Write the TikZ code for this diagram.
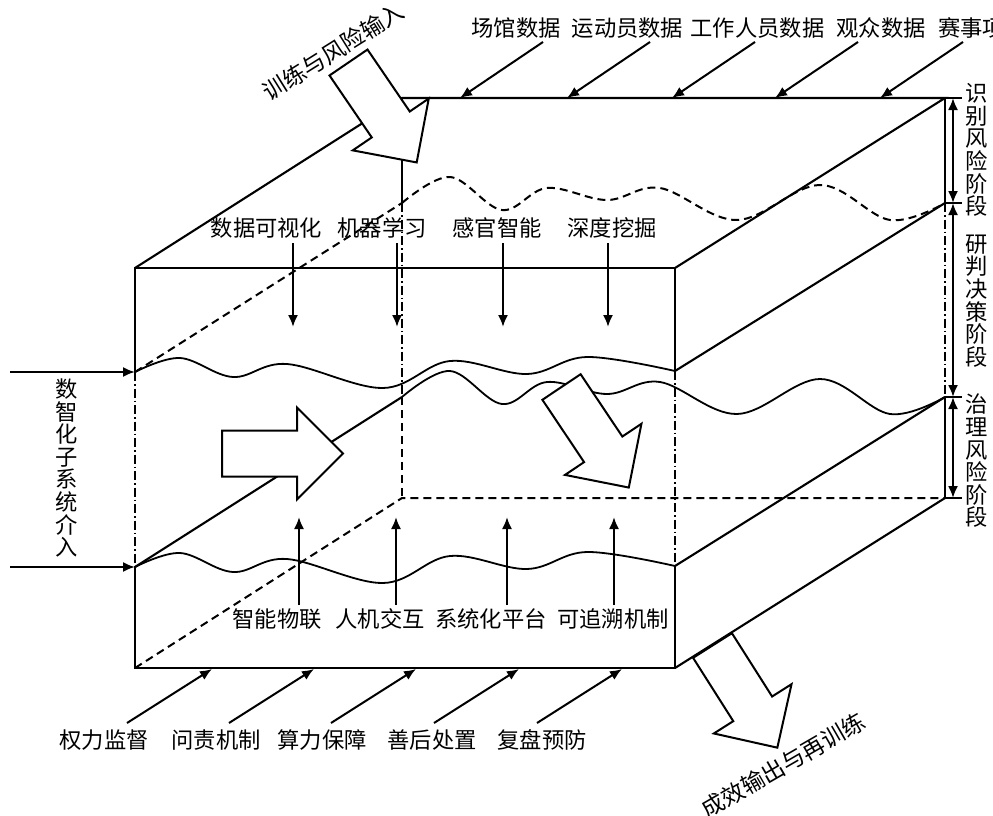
\documentclass[tikz,border=0pt]{standalone}
\usepackage{fontspec}
\setmainfont{Noto Sans CJK SC}
\usetikzlibrary{arrows.meta}
\begin{document}
\begin{tikzpicture}[x=1pt,y=-1pt,
  edge/.style={line width=2.1pt},
  thinedge/.style={line width=1.3pt},
  hid/.style={line width=2pt, dash pattern=on 8pt off 5pt},
  dd/.style={line width=1.7pt, dash pattern=on 9pt off 3pt on 1.5pt off 3pt},
  wave/.style={line width=1.8pt},
  arr/.style={line width=2pt, -{Latex[length=12pt,width=10pt]}},
  darr/.style={line width=2pt, {Latex[length=12pt,width=10pt]}-{Latex[length=12pt,width=10pt]}},
  lab/.style={font=\fontsize{22.3}{22.3}\selectfont, inner sep=0pt},
  rlab/.style={font=\fontsize{23}{23}\selectfont, inner sep=0pt},
  vlab/.style={font=\fontsize{22.3}{22.6}\selectfont, inner sep=0pt, align=center},
  big/.style={line width=2pt, fill=white, line join=miter},
  bigarrow/.pic={\draw[big] (0,-23) -- (75,-23) -- (75,-46) -- (121,0) -- (75,46) -- (75,23) -- (0,23) -- cycle;}
]
\useasboundingbox (0,0) rectangle (993,816);
\fill[white] (0,0) rectangle (993,816);

% corners
\coordinate (F1) at (135,268); \coordinate (F2) at (675,268);
\coordinate (F3) at (675,668); \coordinate (F4) at (135,668);
\coordinate (B1) at (402,98);  \coordinate (B2) at (945,98);
\coordinate (B3) at (945,498); \coordinate (B4) at (402,498);
\coordinate (FL1) at (135,372); \coordinate (FL2) at (135,567);
\coordinate (FR1) at (675,371); \coordinate (FR2) at (675,566);
\coordinate (BL1) at (402,203); \coordinate (BL2) at (402,397);
\coordinate (BR1) at (945,203); \coordinate (BR2) at (945,397);

% hidden edges
\draw[hid] (F4) -- (B4) -- (B3);
\draw[hid] (BL2) -- (B4);
\draw[hid] (FL1) -- (BL1);
\draw[edge] (B1) -- (BL1);
\draw[dd] (BL1) -- (BL2);
\draw[edge] (FL2) -- (BL2);

% visible edges
\draw[edge] (FL1) -- (F1) -- (F2) -- (FR1);
\draw[edge] (FL2) -- (F4) -- (F3) -- (FR2);
\draw[dd] (FL1) -- (FL2);
\draw[dd] (FR1) -- (FR2);
\draw[edge] (F1) -- (B1) -- (B2) -- (F2);
\draw[edge] (B2) -- (BR1);
\draw[dd] (BR1) -- (BR2);
\draw[thinedge] (BR2) -- (B3);
\draw[edge] (B3) -- (F3);
\draw[edge] (FR1) -- (BR1);
\draw[edge] (FR2) -- (BR2);

% layer waves
\draw[wave] plot[smooth,tension=0.6] coordinates {(FL1) (180,358) (233,377) (287,364) (383,388) (450,361) (527,374) (587,357) (FR1)};
\draw[wave] plot[smooth,tension=0.6] coordinates {(FL2) (180,553) (233,572) (287,559) (383,583) (450,556) (527,569) (587,552) (FR2)};
\draw[hid] plot[smooth,tension=0.6] coordinates {(BL1) (450,177) (502,210) (547,188) (607,200) (660,188) (737,220) (820,185) (890,220) (BR1)};
\draw[wave] plot[smooth,tension=0.6] coordinates {(BL2) (450,371) (502,404) (547,382) (607,394) (660,382) (737,414) (820,379) (890,414) (BR2)};

% stage markers on the right
\coordinate (T0) at (962,98);
\coordinate (T1) at (962,203);
\coordinate (T2) at (962,397);
\coordinate (T3) at (962,498);
\draw[edge] (B2) -- (T0);
\draw[edge] (BR1) -- (T1);
\draw[edge] (BR2) -- (T2);
\draw[edge] (B3) -- (T3);
\coordinate (S0) at (953,98);
\coordinate (S1) at (953,203);
\coordinate (S2) at (953,397);
\coordinate (S3) at (953,498);
\draw[darr] (S0) -- (S1);
\draw[darr] (S1) -- (S2);
\draw[darr] (S2) -- (S3);

% big hollow arrows
\pic[rotate=-55.7] at (348.5,62.5) {bigarrow};
\pic at (222,453.5) {bigarrow};
\pic[rotate=-56.2] at (561.5,387) {bigarrow};
\pic[rotate=-57.6] at (712.5,645.5) {bigarrow};

% top data labels and arrows
\node[lab] (t1) at (516,28) {场馆数据};
\node[lab] (t2) at (627.5,28) {运动员数据};
\node[lab] (t3) at (757.5,28) {工作人员数据};
\node[lab] (t4) at (881,28) {观众数据};
\node[lab,anchor=west] (t5) at (938,28) {赛事项};
\foreach \e [count=\i] in {460,567,672,775,880}{
  \coordinate (d\i s) at ({\e+83},42);
  \coordinate (d\i e) at (\e,98);
  \draw[arr] (d\i s) -- (d\i e);
}

% inner top labels and arrows
\node[lab] (m1) at (266.5,228) {数据可视化};
\node[lab] (m2) at (382,228) {机器学习};
\node[lab] (m3) at (497,228) {感官智能};
\node[lab] (m4) at (612,228) {深度挖掘};
\foreach \x [count=\i] in {293,397,503,608}{
  \coordinate (u\i s) at (\x,243);
  \coordinate (u\i e) at (\x,327);
  \draw[arr] (u\i s) -- (u\i e);
}

% inner bottom labels and arrows
\node[lab] (n1) at (277,619) {智能物联};
\node[lab] (n2) at (380,619) {人机交互};
\node[lab] (n3) at (491,619) {系统化平台};
\node[lab] (n4) at (613,619) {可追溯机制};
\foreach \x [count=\i] in {299,396,507,614}{
  \coordinate (v\i s) at (\x,605);
  \coordinate (v\i e) at (\x,517);
  \draw[arr] (v\i s) -- (v\i e);
}

% bottom labels and arrows
\node[lab] (b1) at (104,740) {权力监督};
\node[lab] (b2) at (216,740) {问责机制};
\node[lab] (b3) at (322,740) {算力保障};
\node[lab] (b4) at (432,740) {善后处置};
\node[lab] (b5) at (542,740) {复盘预防};
\foreach \e [count=\i] in {212,314,416,519,622}{
  \coordinate (w\i s) at ({\e-85},723);
  \coordinate (w\i e) at (\e,669);
  \draw[arr] (w\i s) -- (w\i e);
}

% left inputs
\coordinate (L1) at (10,372);
\coordinate (L2) at (10,567);
\draw[arr] (L1) -- (FL1);
\draw[arr] (L2) -- (FL2);
\node[vlab] (lv) at (67,468) {数\\智\\化\\子\\系\\统\\介\\入};

% stage labels
\node[vlab] (s1) at (977,150) {识\\别\\风\\险\\阶\\段};
\node[vlab] (s2) at (977,301) {研\\判\\决\\策\\阶\\段};
\node[vlab] (s3) at (977,461) {治\\理\\风\\险\\阶\\段};

% rotated labels
\node[rlab,rotate=32] (inL) at (333.5,51.5) {训练与风险输入};
\node[rlab,rotate=30] (outL) at (783,765) {成效输出与再训练};
\end{tikzpicture}
\end{document}
